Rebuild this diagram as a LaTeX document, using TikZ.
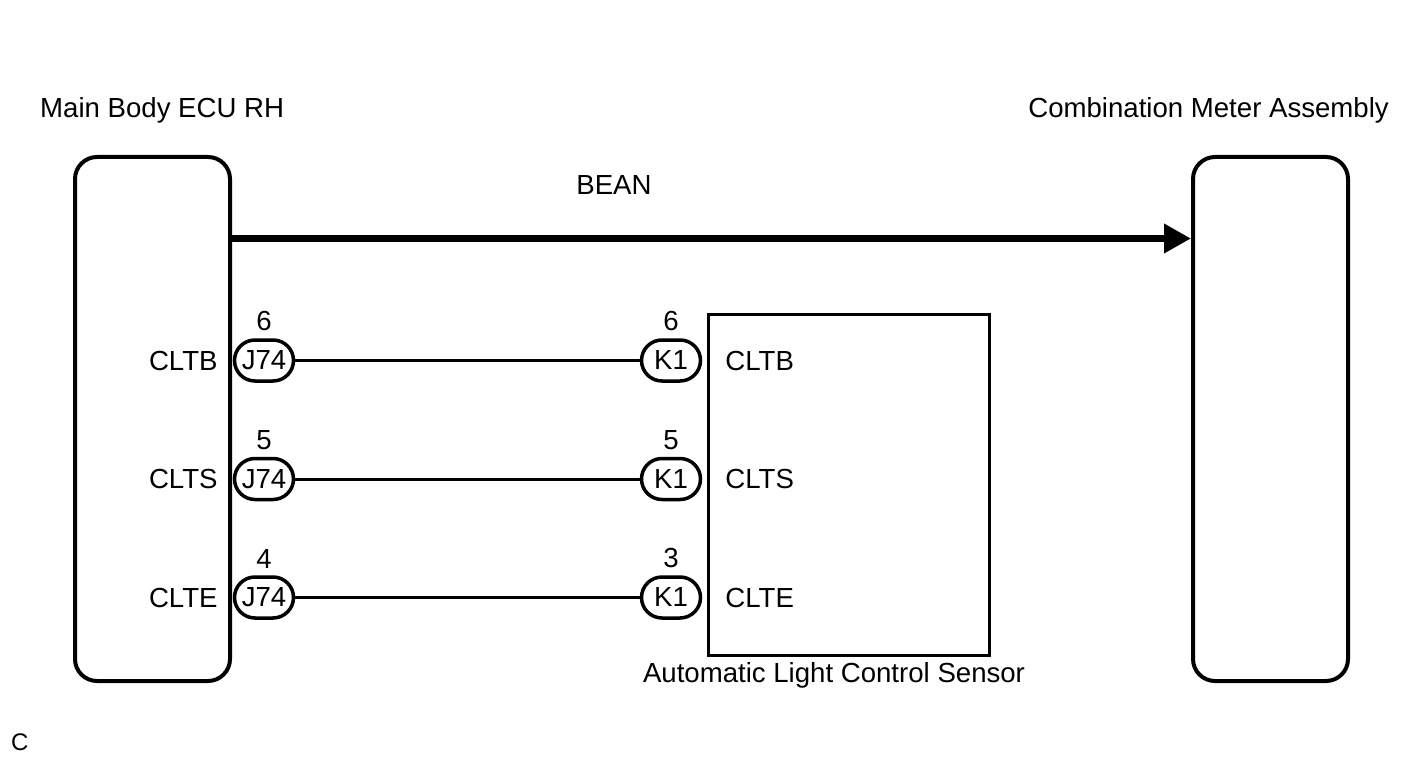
\documentclass[tikz,border=0pt]{standalone}
\usepackage{fontspec}
\setmainfont{Liberation Sans}
\usetikzlibrary{arrows.meta,positioning}

\begin{document}
\begin{tikzpicture}[x=1pt,y=-1pt,font=\fontsize{27.6}{31}\selectfont,
  unit/.style={draw,line width=4pt,rounded corners=22pt,minimum width=155pt,minimum height=524pt,inner sep=0pt},
  pin/.style={draw,line width=3.5pt,rounded corners=20.5pt,minimum width=59pt,minimum height=41pt,inner sep=0pt},
  sig/.style={inner sep=0pt},
  wire/.style={line width=3pt},
  bus/.style={line width=7pt,-{Triangle[length=27pt,width=28pt]}}]

\useasboundingbox (0,0) rectangle (1424,759);

\node[unit] (ecu) at (152.5,419) {};
\node[unit] (meter) at (1270.5,419) {};
\node[draw,line width=3pt,minimum width=281pt,minimum height=341pt,inner sep=0pt] (als) at (849,484.5) {};

\node[sig,anchor=base west] (ecuname) at (40,118) {Main Body ECU RH};
\node[sig,anchor=base east] (metername) at (1389,118) {Combination Meter Assembly};
\node[sig,anchor=base] (alsname) at (834,682) {Automatic Light Control Sensor};
\node[sig,anchor=base] (beanname) at (614,195) {BEAN};
\node[sig,anchor=base west,font=\fontsize{24}{28}\selectfont] (code) at (11,750) {C};

\draw[bus] (ecu.east |- 0,238.5) -- (meter.west |- 0,238.5);

\foreach \s/\y/\a/\b [count=\i] in {CLTB/360.5/6/6, CLTS/479/5/5, CLTE/597.5/4/3} {
  \node[pin] (j\i) at (264,\y) {J74};
  \node[pin] (k\i) at (671,\y) {K1};
  \node[sig,above=7pt of j\i] (ja\i) {\a};
  \node[sig,above=7pt of k\i] (kb\i) {\b};
  \node[sig,left=15pt of j\i] (js\i) {\s};
  \node[sig,right=23pt of k\i] (ks\i) {\s};
  \draw[wire] (j\i) -- (k\i);
}

\end{tikzpicture}
\end{document}
